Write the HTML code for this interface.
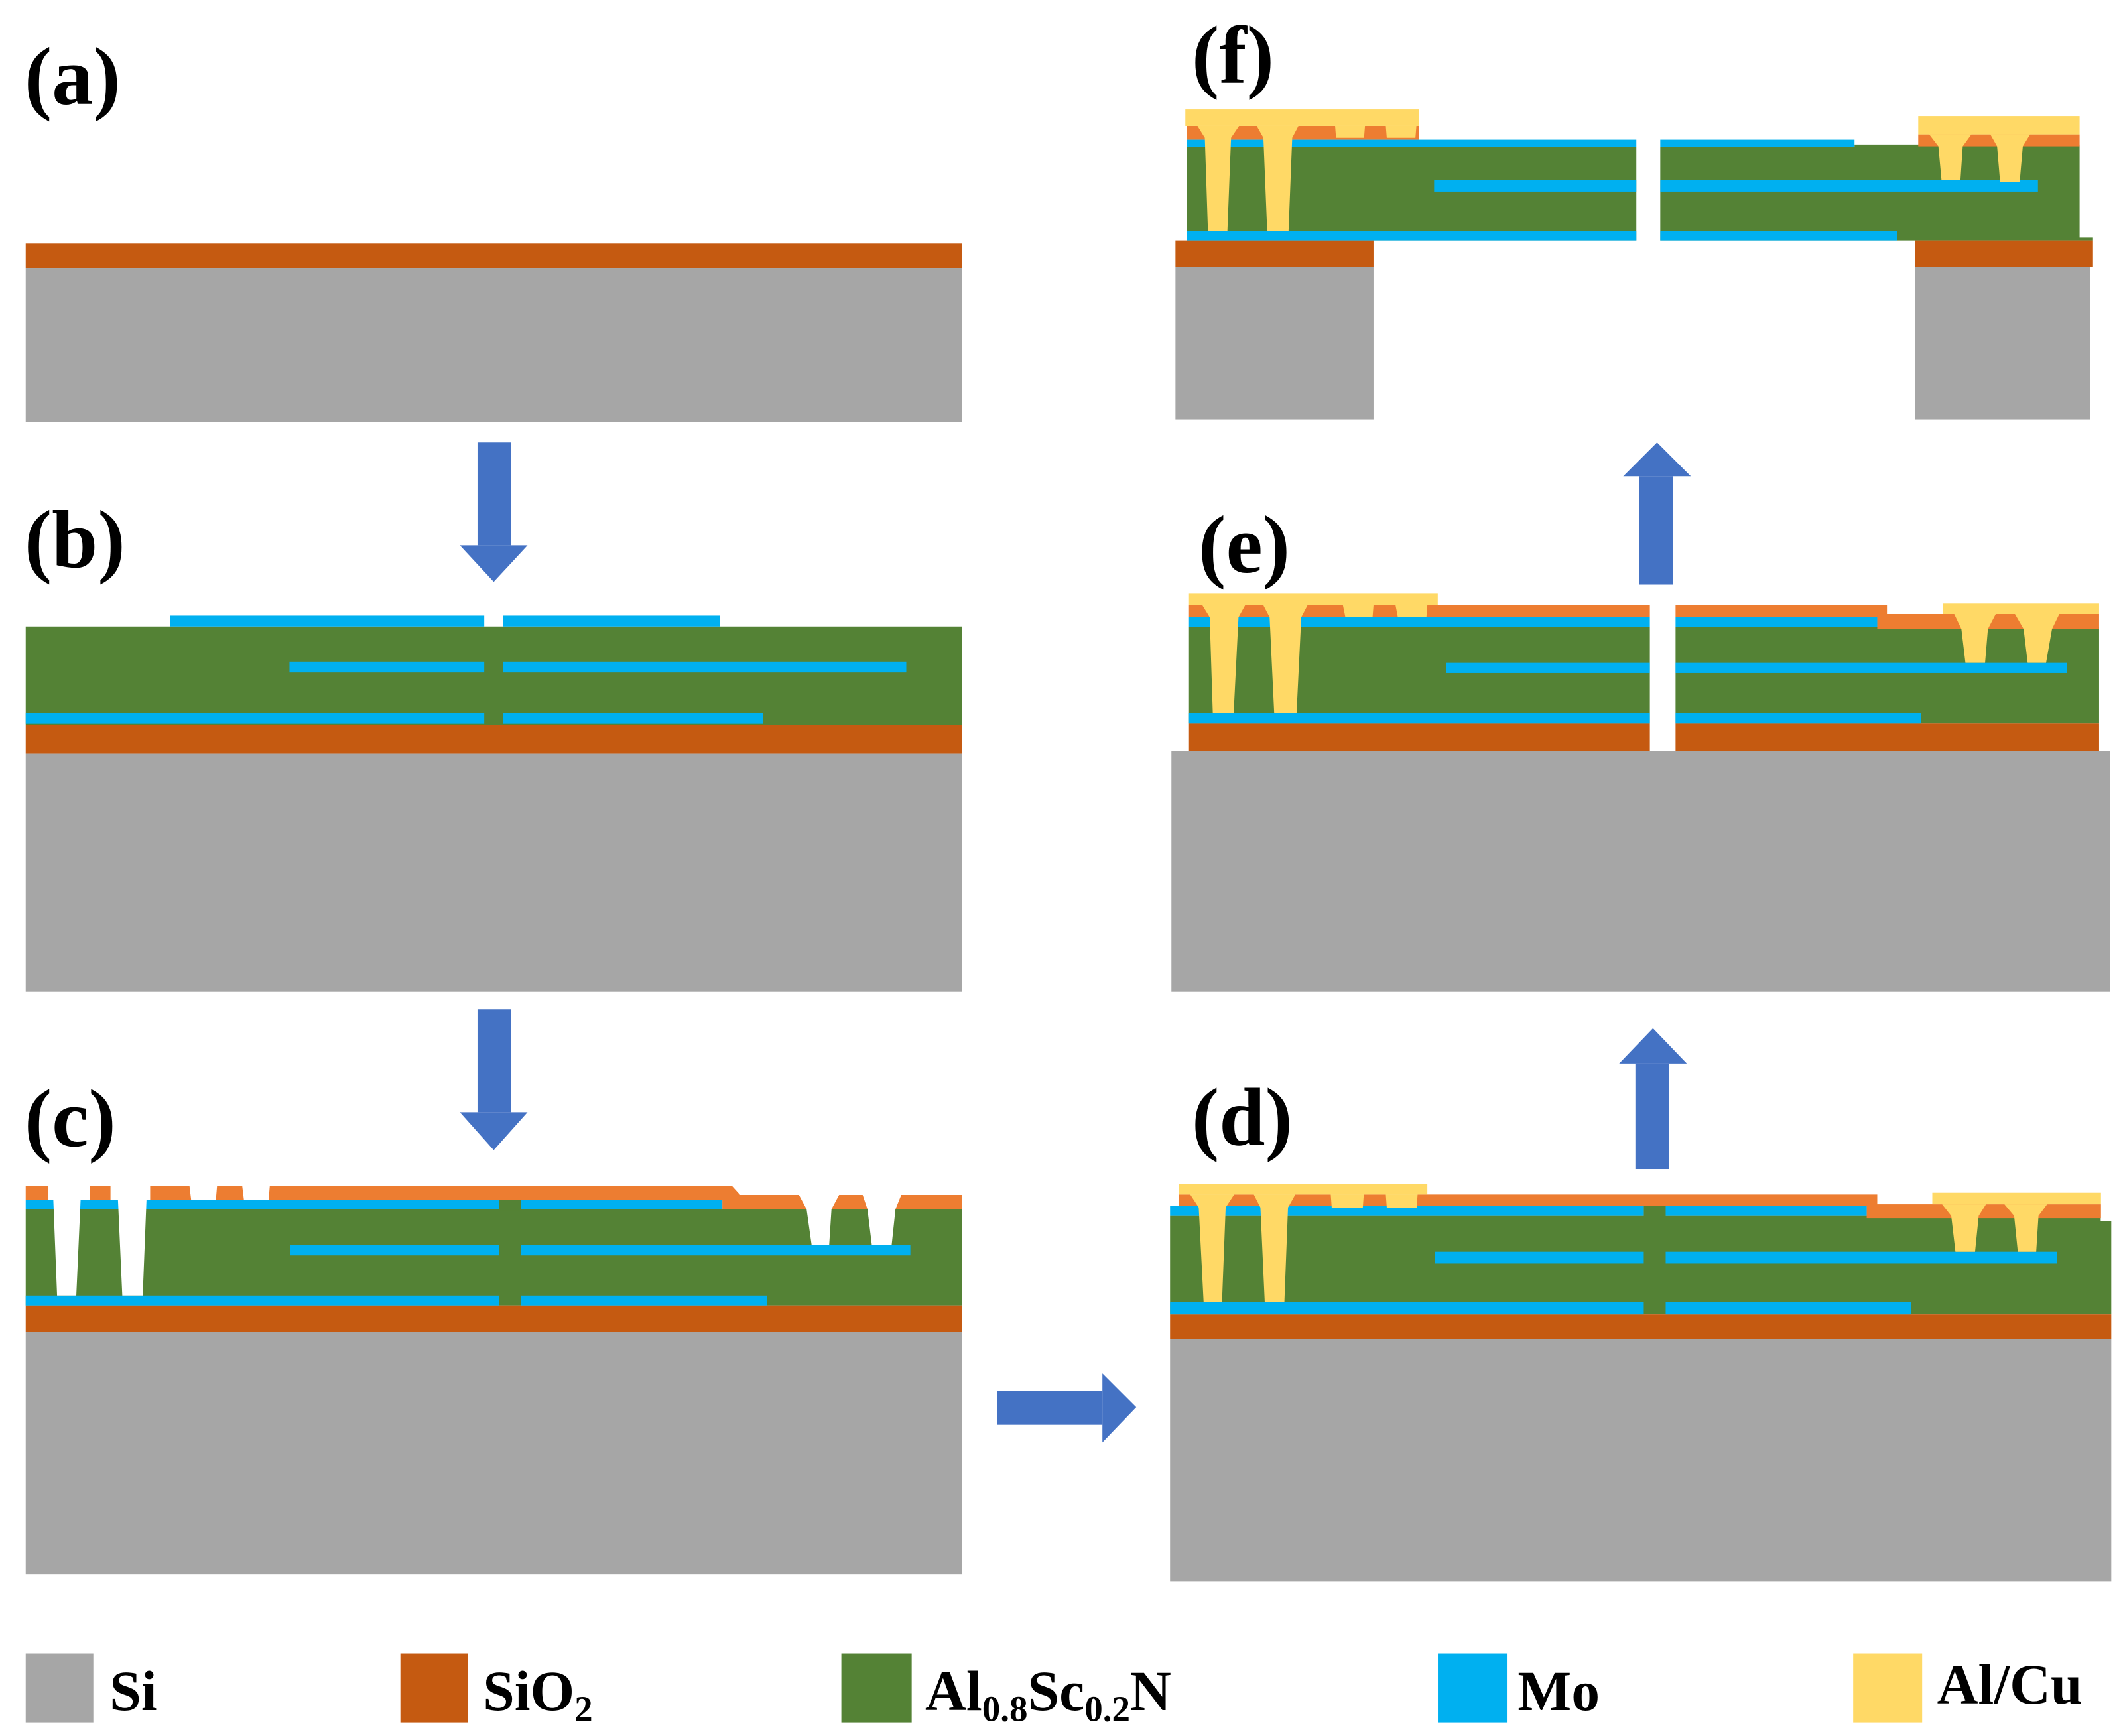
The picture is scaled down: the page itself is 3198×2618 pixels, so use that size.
<!DOCTYPE html>
<html><head><meta charset="utf-8"><style>
html,body{margin:0;padding:0;background:#fff;}
svg{display:block;}
text{font-family:"Liberation Serif",serif;font-weight:bold;fill:#000;}
</style></head><body>
<svg width="3198" height="2618" viewBox="0 0 1568 1283" preserveAspectRatio="none" xmlns="http://www.w3.org/2000/svg">
<rect width="1568" height="1283" fill="#fff"/>
<!-- labels -->
<text x="18" y="77" font-size="61">(a)</text>
<text x="18" y="419" font-size="61">(b)</text>
<text x="18" y="847" font-size="61">(c)</text>
<text x="881" y="846" font-size="61">(d)</text>
<text x="886" y="423" font-size="61">(e)</text>
<text x="881" y="61" font-size="61">(f)</text>

<!-- (a) -->
<rect x="19" y="180" width="692" height="18" fill="#C55A11"/>
<rect x="19" y="198" width="692" height="114" fill="#A6A6A6"/>

<!-- arrows -->
<g fill="#4472C4">
<rect x="353" y="327" width="25" height="76"/><polygon points="340,403 390,403 365,430"/>
<rect x="353" y="746" width="25" height="76"/><polygon points="340,822 390,822 365,850"/>
<rect x="737" y="1028" width="78" height="25"/><polygon points="815,1015 815,1066 840,1040"/>
<rect x="1209" y="786" width="25" height="78"/><polygon points="1197,786 1247,786 1222,760"/>
<rect x="1212" y="352" width="25" height="80"/><polygon points="1200,352 1250,352 1225,327"/>
</g>

<!-- (b) -->
<rect x="19" y="463" width="692" height="73" fill="#548235"/>
<rect x="19" y="536" width="692" height="21" fill="#C55A11"/>
<rect x="19" y="557" width="692" height="176" fill="#A6A6A6"/>
<g fill="#00B0F0">
<rect x="126" y="455" width="232" height="8"/><rect x="372" y="455" width="160" height="8"/>
<rect x="214" y="489" width="144" height="8"/><rect x="372" y="489" width="298" height="8"/>
<rect x="19" y="527" width="339" height="8"/><rect x="372" y="527" width="192" height="8"/>
</g>

<!-- (c) -->
<rect x="19" y="893.7" width="692" height="71.1" fill="#548235"/>
<rect x="19" y="964.8" width="692" height="19.7" fill="#C55A11"/>
<rect x="19" y="984.5" width="692" height="179" fill="#A6A6A6"/>
<polygon points="19,876.6 541.3,876.6 547.2,883.1 711,883.1 711,893.7 534,893.7 534,886.6 19,886.6" fill="#ED7D31"/>
<rect x="368.8" y="886.6" width="16.2" height="8" fill="#548235"/>
<g fill="#00B0F0">
<rect x="19" y="886.6" width="349.8" height="7.1"/><rect x="385" y="886.6" width="149" height="7.1"/>
<rect x="214.7" y="920" width="154.1" height="7.8"/><rect x="385" y="920" width="288" height="7.8"/>
<rect x="19" y="957.5" width="349.8" height="7.3"/><rect x="385" y="957.5" width="182" height="7.3"/>
</g>
<g fill="#fff">
<polygon points="35.8,876 66.5,876 66.5,886.6 59.6,886.6 56.4,957.5 42.2,957.5 39.4,886.6 35.8,886.6"/>
<polygon points="81.7,876 111,876 111,886.6 108.3,886.6 105.5,957.5 90.4,957.5 87.2,886.6 81.7,886.6"/>
<polygon points="140,876 160.5,876 159.6,886.6 141.3,886.6"/>
<polygon points="179,876 199.5,876 198.6,886.6 180.3,886.6"/>
<polygon points="590.4,882.6 620.6,882.6 614.7,893.7 613,920 600,920 596.3,893.7"/>
<polygon points="637.6,882.6 666.5,882.6 662,893.7 659.2,920 644.5,920 641.3,893.7"/>
</g>

<!-- (d) -->
<polygon points="865,898.6 1553,898.6 1553,902.2 1560.8,902.2 1560.8,971.4 865,971.4" fill="#548235"/>
<rect x="865" y="971.4" width="695.8" height="18.4" fill="#C55A11"/>
<rect x="865" y="989.8" width="695.8" height="179.2" fill="#A6A6A6"/>
<rect x="871.7" y="882.8" width="516.1" height="8.5" fill="#ED7D31"/>
<rect x="1380" y="890" width="173.2" height="10.3" fill="#ED7D31"/>
<rect x="1215.2" y="891.3" width="16.2" height="8" fill="#548235"/>
<g fill="#00B0F0">
<rect x="865" y="891.3" width="350.2" height="7.3"/><rect x="1231.4" y="891.3" width="148.6" height="7.3"/>
<rect x="1060.6" y="925.1" width="154.6" height="8.7"/><rect x="1231.4" y="925.1" width="289.2" height="8.7"/>
<rect x="865" y="962.4" width="350.2" height="9"/><rect x="1231.4" y="962.4" width="181.2" height="9"/>
</g>
<g fill="#FFD966">
<rect x="871.7" y="875" width="183.5" height="7.8"/>
<polygon points="879.9,882.8 912.4,882.8 906.1,892.4 903.4,962.4 889.8,962.4 886.2,892.4"/>
<polygon points="926.9,882.8 957.6,882.8 952.2,892.4 949.5,962.4 935,962.4 931.8,892.4"/>
<polygon points="983.8,882.8 1008.2,882.8 1007.5,892.4 984.5,892.4"/>
<polygon points="1024.5,882.8 1048,882.8 1047.3,892.4 1025.2,892.4"/>
<rect x="1428.5" y="881.5" width="124.7" height="8.5"/>
<polygon points="1435.7,890 1468.2,890 1462.8,898.6 1460.1,925.1 1445.6,925.1 1442.5,898.6"/>
<polygon points="1481.8,890 1513.4,890 1507,898.6 1505.3,925.1 1491.7,925.1 1489,898.6"/>
</g>

<!-- (e) -->
<rect x="878.5" y="463.6" width="341.2" height="71.2" fill="#548235"/>
<rect x="1238.7" y="463.6" width="313.1" height="71.2" fill="#548235"/>
<rect x="878.5" y="534.8" width="341.2" height="20" fill="#C55A11"/>
<rect x="1238.7" y="534.8" width="313.1" height="20" fill="#C55A11"/>
<rect x="866" y="554.8" width="694" height="178.2" fill="#A6A6A6"/>
<rect x="878.5" y="447.4" width="341.2" height="8.8" fill="#ED7D31"/>
<rect x="1238.7" y="447.4" width="156.3" height="8.8" fill="#ED7D31"/>
<rect x="1387.8" y="453.8" width="164" height="11.1" fill="#ED7D31"/>
<g fill="#00B0F0">
<rect x="878.5" y="456.2" width="341.2" height="7.4"/><rect x="1238.7" y="456.2" width="149.1" height="7.4"/>
<rect x="1069" y="489.9" width="150.7" height="7.5"/><rect x="1238.7" y="489.9" width="289.2" height="7.5"/>
<rect x="878.5" y="527.3" width="341.2" height="7.5"/><rect x="1238.7" y="527.3" width="181.6" height="7.5"/>
</g>
<g fill="#FFD966">
<rect x="878.5" y="438.8" width="184.4" height="8.6"/>
<polygon points="888.9,447.4 920.5,447.4 915.6,456.2 912,527.3 896.6,527.3 894.3,456.2"/>
<polygon points="934,447.4 966.6,447.4 962,456.2 958.5,527.3 942,527.3 938.6,456.2"/>
<polygon points="992.8,447.4 1015.4,447.4 1014.7,456.2 994.6,456.2"/>
<polygon points="1031.7,447.4 1055.2,447.4 1054.5,456.2 1033.4,456.2"/>
<rect x="1436.6" y="446.1" width="115.2" height="7.7"/>
<polygon points="1444.7,453.8 1475.4,453.8 1469.6,464.9 1467.5,489.9 1453,489.9 1450,464.9"/>
<polygon points="1489.6,453.8 1522.4,453.8 1517,464.9 1512.6,489.9 1499,489.9 1496,464.9"/>
</g>

<!-- (f) -->
<rect x="877.6" y="108.3" width="332.1" height="69.4" fill="#548235"/>
<polygon points="1227.4,108.3 1371,108.3 1371,106.8 1537.4,106.8 1537.4,175.6 1547.3,175.6 1547.3,177.7 1227.4,177.7" fill="#548235"/>
<rect x="869" y="177.7" width="146.4" height="19.5" fill="#C55A11"/>
<rect x="869" y="197.2" width="146.4" height="112.8" fill="#A6A6A6"/>
<rect x="1416" y="177.7" width="131.3" height="19.5" fill="#C55A11"/>
<rect x="1416" y="197.2" width="129" height="112.8" fill="#A6A6A6"/>
<rect x="877.6" y="93.1" width="171.3" height="10.1" fill="#ED7D31"/>
<rect x="1418.1" y="99.3" width="119.3" height="8.8" fill="#ED7D31"/>
<g fill="#00B0F0">
<rect x="877.6" y="103.2" width="332.1" height="5.1"/><rect x="1227.4" y="103.2" width="143.6" height="5.1"/>
<rect x="1060.2" y="133.1" width="149.5" height="8.5"/><rect x="1227.4" y="133.1" width="279.2" height="8.5"/>
<rect x="877.6" y="170.6" width="332.1" height="7.1"/><rect x="1227.4" y="170.6" width="175.3" height="7.1"/>
</g>
<g fill="#FFD966">
<rect x="876.3" y="80.9" width="172.6" height="12.2"/>
<polygon points="885.3,93.1 916,93.1 910.1,101.8 907.4,170.6 893,170.6 890.7,101.8"/>
<polygon points="929.1,93.1 959.9,93.1 955.3,101.8 952.6,170.6 936.8,170.6 934,101.8"/>
<polygon points="987,93.1 1009.1,93.1 1008.4,101.8 987.7,101.8"/>
<polygon points="1024.5,93.1 1047.1,93.1 1046.4,101.8 1025.2,101.8"/>
<rect x="1418.1" y="85.8" width="119.3" height="13.5"/>
<polygon points="1426.2,99.3 1457.4,99.3 1451,108.1 1449.3,133.1 1435.3,133.1 1433,108.1"/>
<polygon points="1471.4,99.3 1500.8,99.3 1495.4,108.1 1493.1,134.3 1478.6,134.3 1476.4,108.1"/>
</g>

<!-- legend -->
<rect x="19" y="1222" width="50" height="51" fill="#A6A6A6"/>
<rect x="296" y="1222" width="50" height="51" fill="#C55A11"/>
<rect x="622" y="1222" width="52" height="51" fill="#548235"/>
<rect x="1063" y="1222" width="51" height="51" fill="#00B0F0"/>
<rect x="1370" y="1222" width="51" height="51" fill="#FFD966"/>
<text x="81" y="1264" font-size="42">Si</text>
<text x="357" y="1264" font-size="42">SiO<tspan font-size="27" dy="8">2</tspan></text>
<text x="684" y="1264" font-size="42">Al<tspan font-size="27" dy="8">0.8</tspan><tspan dy="-8">Sc</tspan><tspan font-size="27" dy="8">0.2</tspan><tspan dy="-8">N</tspan></text>
<text x="1122" y="1264" font-size="42">Mo</text>
<text x="1432" y="1259" font-size="42">Al/Cu</text>
</svg>
</body></html>
